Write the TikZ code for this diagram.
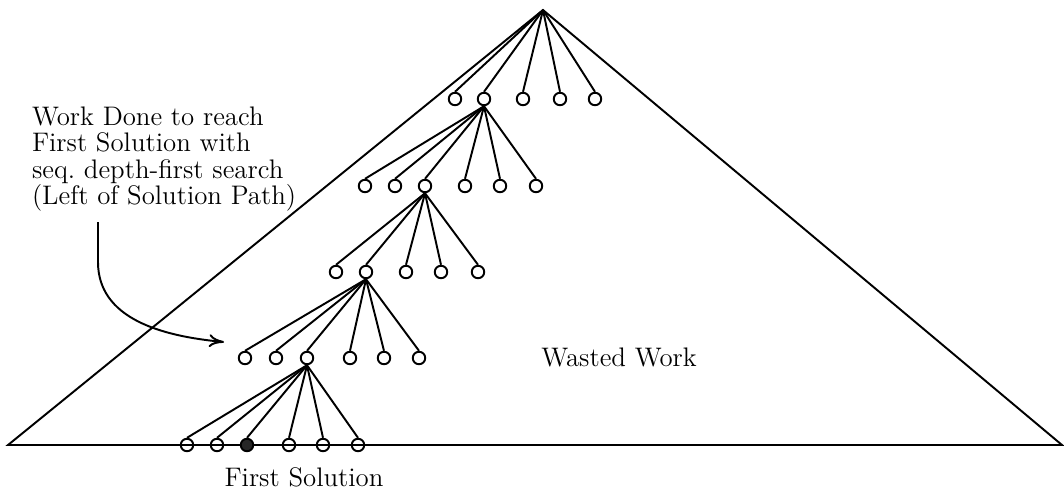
\documentclass[tikz,border=0pt]{standalone}
\usetikzlibrary{positioning}
\usetikzlibrary{arrows.meta}

\begin{document}
\begin{tikzpicture}[x=0.02cm, y=-0.02cm, line width=1.1pt,
  nodo/.style={circle, draw, line width=1.1pt, minimum size=0.25cm, inner sep=0pt},
  sol/.style={nodo, fill=black!85},
  texto/.style={font=\fontsize{14.4}{14.1}\selectfont, scale=1.06, transform shape}]
  \useasboundingbox (0,0) rectangle (1064,498);

  % triangle of the whole search space
  \coordinate (raiz) at (543,10);
  \coordinate (izq) at (8,445);
  \coordinate (der) at (1062,445);
  \draw (raiz) -- (izq) -- (der) -- cycle;

  % level 1
  \foreach \x [count=\i] in {455,484,523,560,595}
    \node[nodo] (a\i) at (\x,99) {};
  \foreach \i in {1,...,5} \draw (raiz) -- (a\i.north);

  % level 2
  \foreach \x [count=\i] in {365,395,425,465,500,536}
    \node[nodo] (b\i) at (\x,186) {};
  \foreach \i in {1,...,6} \draw (a2.south) -- (b\i.north);

  % level 3
  \foreach \x [count=\i] in {336,366,406,441,478}
    \node[nodo] (c\i) at (\x,272) {};
  \foreach \i in {1,...,5} \draw (b3.south) -- (c\i.north);

  % level 4
  \foreach \x [count=\i] in {245,276,307,350,384,419}
    \node[nodo] (d\i) at (\x,358) {};
  \foreach \i in {1,...,6} \draw (c2.south) -- (d\i.north);

  % level 5, the solution is filled
  \foreach \x/\s [count=\i] in {187/nodo,217/nodo,247/sol,289/nodo,323/nodo,358/nodo}
    \node[\s] (e\i) at (\x,445) {};
  \foreach \i in {1,...,6} \draw (d3.south) -- (e\i.north);

  % labels
  \node[texto, align=left, anchor=north west, inner sep=0pt] (trabajo) at (31,106)
    {Work Done to reach\\First Solution with\\seq.\ depth-first search\\(Left of Solution Path)};
  \node[texto] (desperdicio) at (619,357) {Wasted Work};
  \node[texto] (primera) at (304,477) {First Solution};

  % arrow
  \coordinate (inicio) at (98,222);
  \coordinate (fin) at (224,342);
  \draw[-{To[length=3mm, width=2.6mm]}] (inicio) -- (98,262)
    .. controls (98,318) and (160,336) .. (fin);
\end{tikzpicture}
\end{document}
